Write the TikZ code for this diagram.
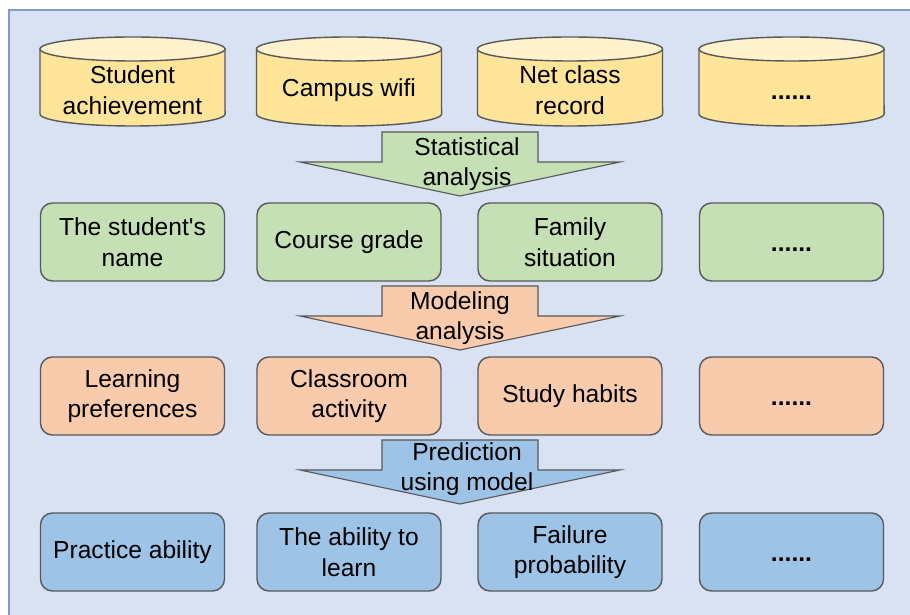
\documentclass[tikz,border=0pt]{standalone}
\usepackage{fontspec}
\setmainfont{Liberation Sans}
\usepackage{xcolor}
\definecolor{panel-blue}{HTML}{D9E2F3}
\definecolor{panel-edge}{HTML}{7F9CC8}
\definecolor{db-yellow}{HTML}{FFE599}
\definecolor{db-top}{HTML}{FFF2CC}
\definecolor{box-green}{HTML}{C5E0B4}
\definecolor{box-orange}{HTML}{F8CBAD}
\definecolor{box-blue}{HTML}{9DC3E6}
\definecolor{edge-gray}{HTML}{595959}
\usepackage{tikz}
\usetikzlibrary{calc}
\tikzset{
	labeltext/.style={align=center,inner sep=0pt,font=\fontsize{17.5}{21.8}\selectfont},
	infobox/.style={labeltext,draw=edge-gray,line width=1pt,rounded corners=0.3cm,
		minimum width=4.6cm,minimum height=1.95cm},
	bigarrow/.style={draw=edge-gray,line width=0.8pt,line join=miter}
}
% block arrow between two rows: #1 = top of shaft, #2 = fill
\newcommand*\flowarrow[2]{
	\filldraw[bigarrow,fill=#2] (382,#1) -- (538,#1) -- (538,#1+30) -- (620,#1+30)
		-- (460,#1+64) -- (300,#1+30) -- (382,#1+30) -- cycle;}
\newcommand*\moredots{\vphantom{Ag}\raisebox{-0.1cm}{\textbf{......}}}

\begin{document}
\begin{tikzpicture}[x=0.025cm,y=-0.025cm]
	\useasboundingbox (0,0) rectangle (910,615);
	\filldraw[fill=panel-blue,draw=panel-edge,line width=0.8pt] (9,10) rectangle (915,620);
	
	% data sources
	\foreach \cx/\name/\txt in {
		132.5/achieve/{Student\\achievement},
		349/wifi/{\vphantom{Ag}Campus wifi},
		570/netclass/{Net class\\record},
		791.5/moresrc/{\moredots}} {
		\filldraw[fill=db-yellow,draw=edge-gray,line width=1pt]
			(\cx-92.5,49) -- (\cx-92.5,114)
			arc[start angle=180,end angle=360,x radius=2.3125cm,y radius=0.3cm]
			-- (\cx+92.5,49) -- cycle;
		\filldraw[fill=db-top,draw=edge-gray,line width=1pt]
			(\cx,49) ellipse [x radius=2.3125cm,y radius=0.3cm];
		\node[labeltext] (\name) at (\cx,90) {\txt};
	}
	
	\foreach \cx/\name/\txt in {
		132.5/stuname/{The student\textquotesingle s\\name},
		349/grade/{\vphantom{Ag}Course grade},
		570/family/{Family\\situation},
		791.5/morefeat/{\moredots}} {
		\node[infobox,fill=box-green] (\name) at (\cx,242) {\txt};
	}
	\foreach \cx/\name/\txt in {
		132.5/prefer/{Learning\\preferences},
		349/activity/{Classroom\\activity},
		570/habits/{\vphantom{Ag}Study habits},
		791.5/moremodel/{\moredots}} {
		\node[infobox,fill=box-orange] (\name) at (\cx,396) {\txt};
	}
	\foreach \cx/\name/\txt in {
		132.5/practice/{\vphantom{Ag}Practice ability},
		349/learn/{The ability to\\learn},
		570/failure/{Failure\\probability},
		791.5/morepred/{\moredots}} {
		\node[infobox,fill=box-blue] (\name) at (\cx,552) {\txt};
	}
	
	\flowarrow{132}{box-green}
	\flowarrow{286}{box-orange}
	\flowarrow{440}{box-blue}
	\node[labeltext] (stat) at (467,164) {Statistical\\analysis};
	\node[labeltext] (model) at (460,318) {Modeling\\analysis};
	\node[labeltext] (predict) at (467,469) {Prediction\\using model};
\end{tikzpicture}
\end{document}
